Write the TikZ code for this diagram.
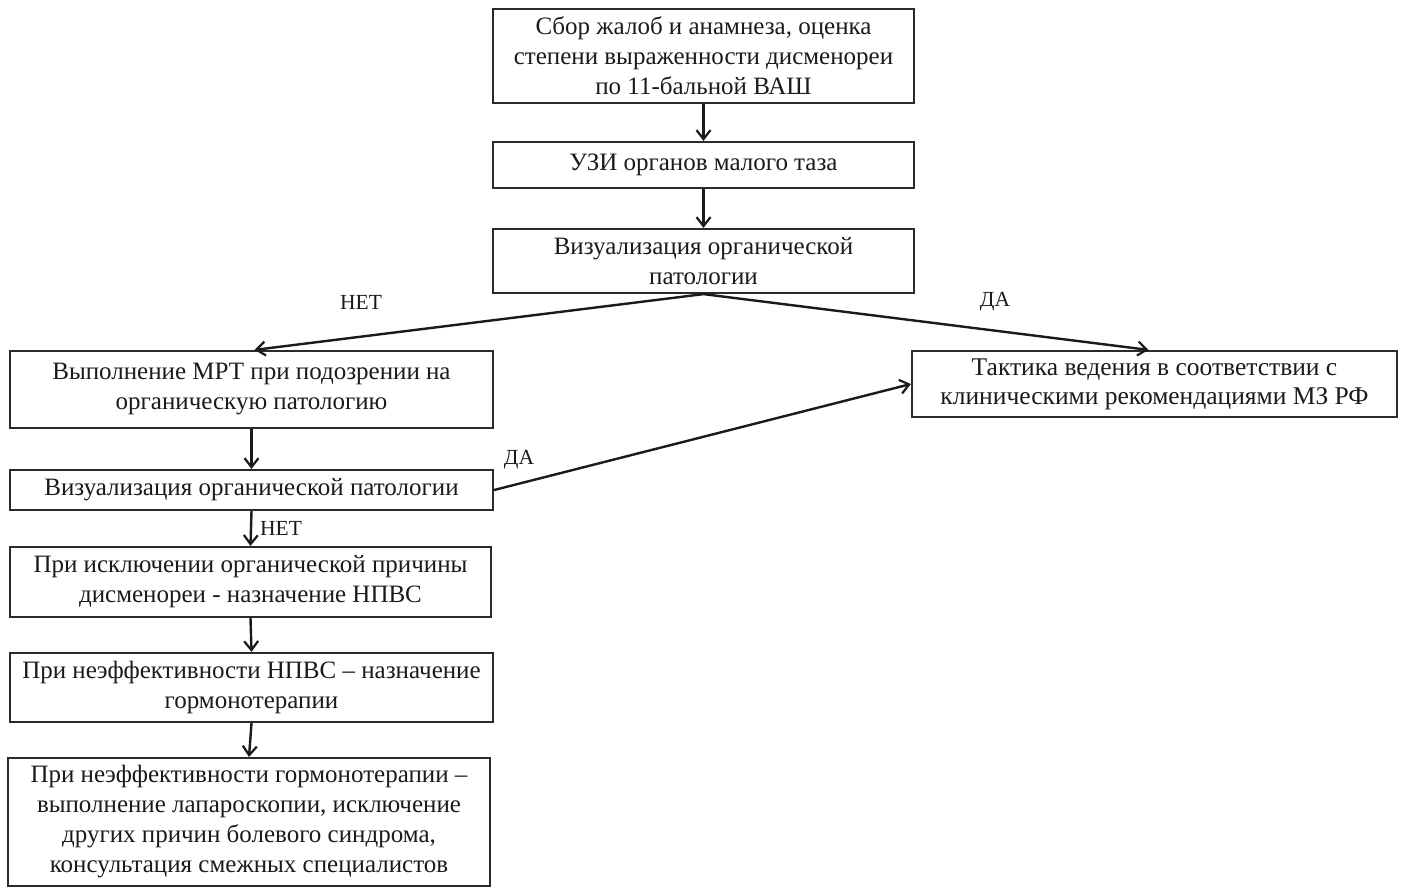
\documentclass[tikz,border=0pt]{standalone}
\usepackage{fontspec}
\setmainfont{Liberation Serif}
\usetikzlibrary{arrows.meta}
\definecolor{ln}{HTML}{2A2A2A}
\definecolor{tx}{HTML}{1A1A1A}
\tikzset{
  box/.style={draw=ln, line width=2.2pt, rectangle, inner sep=0pt, align=center,
              font=\fontsize{25}{30}\selectfont, text=tx},
  arr/.style={draw=tx, line width=2.4pt, -{Straight Barb[length=9pt,width=14pt,line width=2.2pt]}},
  lbl/.style={font=\fontsize{21.5}{24}\selectfont, text=tx, inner sep=0pt}
}
\begin{document}
\begin{tikzpicture}[x=1pt,y=-1pt]
\useasboundingbox (0,0) rectangle (1405,887);
\node[box, minimum width=421pt, minimum height=94pt] (b1) at (703.5,56)
  {Сбор жалоб и анамнеза, оценка\\степени выраженности дисменореи\\по 11-бальной ВАШ};
\node[box, minimum width=421pt, minimum height=46pt] (b2) at (703.5,165)
  {УЗИ органов малого таза};
\node[box, minimum width=421pt, minimum height=64pt] (b3) at (703.5,261)
  {Визуализация органической\\патологии};
\node[box, minimum width=483pt, minimum height=77pt] (b4) at (251.5,389.5)
  {Выполнение МРТ при подозрении на\\органическую патологию};
\node[box, minimum width=485pt, minimum height=66pt, font=\fontsize{25.5}{29}\selectfont] (bt) at (1154.5,384)
  {Тактика ведения в соответствии с\\клиническими рекомендациями МЗ РФ};
\node[box, minimum width=483pt, minimum height=40pt] (b5) at (251.5,490)
  {Визуализация органической патологии};
\node[box, minimum width=481pt, minimum height=70pt] (b6) at (250.5,582)
  {При исключении органической причины\\дисменореи - назначение НПВС};
\node[box, minimum width=483pt, minimum height=69pt] (b7) at (251.5,687.5)
  {При неэффективности НПВС -- назначение\\гормонотерапии};
\node[box, minimum width=482pt, minimum height=128pt] (b8) at (249,822)
  {При неэффективности гормонотерапии --\\выполнение лапароскопии, исключение\\других причин болевого синдрома,\\консультация смежных специалистов};

\coordinate (t4) at ([xshift=3pt]b4.north);
\coordinate (tt) at ([xshift=-6pt]bt.north);
\draw[arr] (b1.south) -- (b2.north);
\draw[arr] (b2.south) -- (b3.north);
\draw[arr] (b3.south) -- (t4);
\draw[arr] (b3.south) -- (tt);
\draw[arr] (b4.south) -- (b5.north);
\draw[arr] (b5.east) -- (bt.west);
\draw[arr] (b5.south) -- (b6.north);
\draw[arr] (b6.south) -- (b7.north);
\draw[arr] (b7.south) -- (b8.north);

\node[lbl] (l1) at (361,302) {НЕТ};
\node[lbl] (l2) at (995,302) {ДА};
\node[lbl] (l3) at (519,460) {ДА};
\node[lbl] (l4) at (281,528) {НЕТ};
\end{tikzpicture}
\end{document}
